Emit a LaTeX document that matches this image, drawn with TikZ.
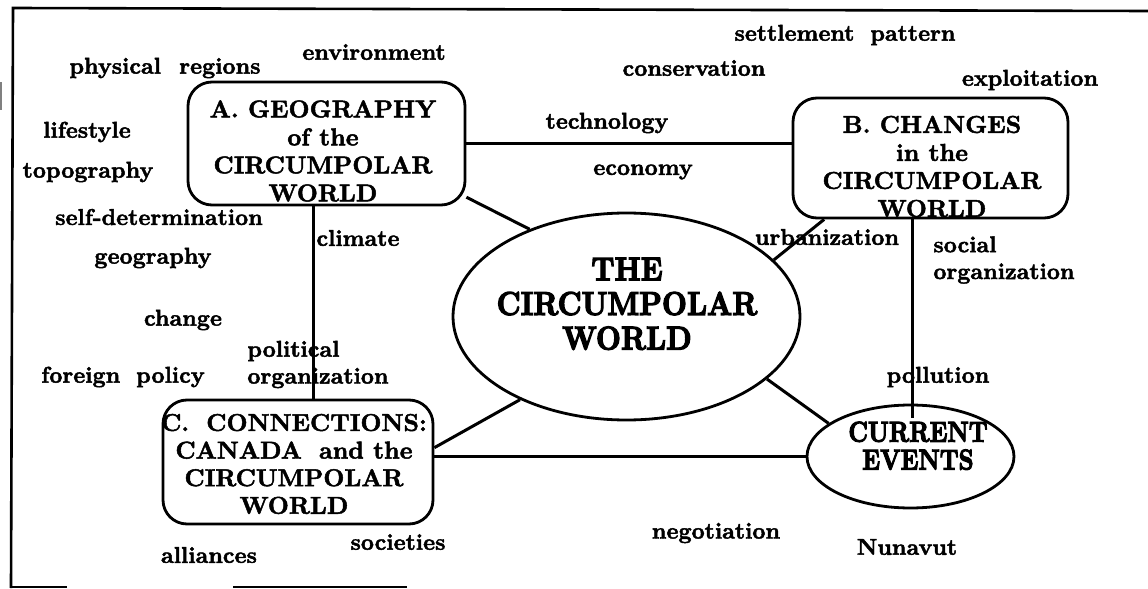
\documentclass[tikz,border=0pt]{standalone}
\usepackage{fontspec}
\newfontfamily\hv{lmroman10-bold.otf}[FakeBold=2]
\newfontfamily\hvv{lmroman10-bold.otf}[FakeBold=4]
\usetikzlibrary{shapes.geometric}
\newcommand\wsp{\hspace{0.7em}}
\newcommand\stk[2][1]{\scalebox{#1}[1]{\begin{tabular}{@{}c@{}}#2\end{tabular}}}
\tikzset{
  lab/.style={font=\hv\fontsize{11.4}{13.4}\selectfont, inner sep=0pt},
  labl/.style={lab, align=left, anchor=west},
  rbox/.style={draw, line width=1.4pt, rounded corners=12pt, inner sep=0pt},
  boxtxt/.style={font=\hv\fontsize{12.2}{14}\selectfont, align=center, inner sep=0pt},
  oval/.style={draw, ellipse, line width=1.4pt, inner sep=0pt},
  conn/.style={line width=1.5pt},
  frame/.style={line width=1.3pt},
}
\begin{document}
\begin{tikzpicture}[x=0.5pt,y=-0.5pt]
\useasboundingbox (0,0) rectangle (1148,589);
% frame
\coordinate (f1) at (13,8);
\coordinate (f2) at (1148,11);
\coordinate (f3) at (11,588);
\draw[frame] (f2) -- (f1) -- (f3);
\coordinate (b1) at (10,587); \coordinate (b2) at (67,587);
\coordinate (b3) at (233,587); \coordinate (b4) at (407,587);
\draw[frame] (b1) -- (b2);
\draw[frame] (b3) -- (b4);
\coordinate (m1) at (1,82); \coordinate (m2) at (1,110);
\draw[line width=0.6pt, gray] (m1) -- (m2);

% labels
\node[lab] (l1) at (165,68) {physical\hspace{0.8em}regions};
\node[lab] (l2) at (374,52) {environment};
\node[lab] (l3) at (87,132) {lifestyle};
\node[lab] (l4) at (88,172) {topography};
\node[lab] (l5) at (159,217) {self-determination};
\node[lab] (l6) at (358,238) {climate};
\node[lab] (l7) at (153,258) {geography};
\node[lab] (l8) at (183,320) {change};
\node[labl] (l9) at (247,364.5) {political\\organization};
\node[lab] (l10) at (123,377) {foreign\wsp policy};
\node[lab] (l11) at (607,123) {technology};
\node[lab] (l12) at (643,172) {economy};
\node[lab] (l13) at (694,68) {conservation};
\node[lab] (l14) at (845,35) {settlement\wsp pattern};
\node[lab] (l15) at (1030,80) {exploitation};
\node[lab] (l16) at (827,237) {urbanization};
\node[labl] (l17) at (933,260) {social\\organization};
\node[lab] (l18) at (938,377) {pollution};
\node[lab] (l19) at (716,533) {negotiation};
\node[lab] (l20) at (907,547) {Nunavut};
\node[lab] (l21) at (398,542) {societies};
\node[lab] (l22) at (209,555) {alliances};

% main nodes
\node[rbox, minimum width=138.5pt, minimum height=61.5pt] (A) at (326.5,143.5) {};
\node[boxtxt] (At) at (323,151) {A. GEOGRAPHY\\of the\\CIRCUMPOLAR\\WORLD};
\node[rbox, minimum width=137.5pt, minimum height=60pt] (B) at (930.5,158) {};
\node[boxtxt] (Bt) at (932,166.5) {B. CHANGES\\in the\\CIRCUMPOLAR\\WORLD};
\node[rbox, minimum width=135pt, minimum height=62pt] (C) at (298,462) {};
\node[boxtxt, font=\hv\fontsize{12.2}{13.8}\selectfont] (Ct) at (294,464) {C.\wsp CONNECTIONS:\\CANADA\wsp and the\\CIRCUMPOLAR\\WORLD};
\node[oval, minimum width=173.5pt, minimum height=103.5pt] (W) at (626.5,316.5) {};
\node[boxtxt, font=\hvv\fontsize{16.5}{17.3}\selectfont] (Wt) at (627,308) {\stk[0.88]{THE\\CIRCUMPOLAR\\WORLD}};
\node[oval, minimum width=103.5pt, minimum height=51.5pt] (E) at (910.5,456.5) {};
\node[boxtxt, font=\hvv\fontsize{14.4}{13}\selectfont] (Et) at (918,449.5) {\stk[0.82]{CURRENT\\EVENTS}};

% connectors
\coordinate (ac) at (313,300);
\coordinate (bc) at (912,418);
\draw[conn] (A.east) -- (A.east -| B.west);
\draw[conn] (A.south -| ac) -- (C.north -| ac);
\draw[conn] (B.south -| bc) -- (bc);
\draw[conn] (W.138.7) -- (A.-21.5);
\draw[conn] (W.21.9) -- (B.210);
\draw[conn] (W.218.1) -- (C.6.3);
\draw[conn] (W.-24.4) -- (E.158);
\draw[conn] (E.west) -- (E.west -| C.east);
\end{tikzpicture}
\end{document}
